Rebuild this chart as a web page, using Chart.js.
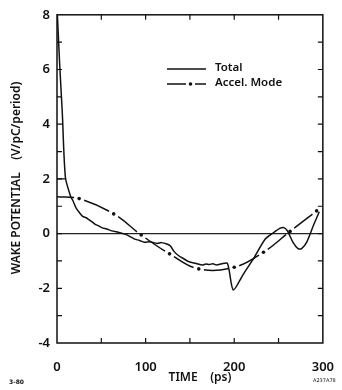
<!DOCTYPE html>
<html>
<head>
<meta charset="utf-8">
<script src="https://cdn.jsdelivr.net/npm/chart.js@4.4.0/dist/chart.umd.min.js"></script>
<style>
  html, body { margin: 0; padding: 0; background: #fff; }
</style>
</head>
<body>
<canvas id="grafico" width="342" height="390"></canvas>
<script>
// Dados
const tempoTotal = [0, 3, 6, 9.5, 15.5, 18, 21.6, 25, 29, 33, 36, 40, 43.6, 47, 51, 56, 62, 68, 76.6, 82, 87.5, 93, 98.5, 105, 113, 118, 124, 128, 132, 137, 142.5, 149, 157, 164, 168, 172, 176, 180, 186, 192, 194, 199, 210, 223, 235, 245, 252, 256, 260, 266, 272, 276, 282, 290, 296];
const wakeTotal = [8.3, 6.2, 4.4, 2.05, 1.35, 1.2, 0.93, 0.78, 0.63, 0.58, 0.51, 0.42, 0.33, 0.28, 0.21, 0.17, 0.1, 0.06, -0.02, -0.1, -0.2, -0.25, -0.32, -0.3, -0.36, -0.33, -0.38, -0.45, -0.65, -0.8, -0.91, -1.03, -1.09, -1.15, -1.11, -1.13, -1.1, -1.15, -1.1, -1.08, -1.3, -2.06, -1.5, -0.85, -0.2, 0.05, 0.2, 0.22, 0.1, -0.3, -0.55, -0.55, -0.3, 0.35, 0.8];

const tempoAcel = [0, 25, 64, 95, 127, 160, 200, 233, 263, 293];
const wakeAcel = [1.35, 1.28, 0.72, -0.05, -0.74, -1.29, -1.23, -0.68, 0.08, 0.83];

// trecho horizontal no início (nível 2)
const tempoDegrau = [0, 9.5];
const wakeDegrau = [2.0, 2.0];

const rotulosX = [0, 100, 200, 300];
const rotulosY = [-4, -2, 0, 2, 4, 6, 8];

const pares = (xs, ys) => xs.map((x, i) => ({ x: x, y: ys[i] }));

const fonteEixo = "600 13px 'Noto Sans', sans-serif";

// Plugin: moldura, ticks para dentro, legenda e títulos
const moldura = {
  id: 'moldura',
  afterDraw(chart) {
    const ctx = chart.ctx;
    const a = chart.chartArea;
    const sx = chart.scales.x;
    const sy = chart.scales.y;
    ctx.save();
    ctx.strokeStyle = '#111';
    ctx.lineWidth = 1.5;
    ctx.strokeRect(a.left, a.top, a.right - a.left, a.bottom - a.top);

    ctx.lineWidth = 1.2;
    ctx.beginPath();
    for (let v = 50; v < 300; v += 50) {
      const px = sx.getPixelForValue(v);
      ctx.moveTo(px, a.bottom); ctx.lineTo(px, a.bottom - 5);
      ctx.moveTo(px, a.top); ctx.lineTo(px, a.top + 5);
    }
    for (let v = -3; v < 8; v++) {
      const py = sy.getPixelForValue(v);
      ctx.moveTo(a.left, py); ctx.lineTo(a.left + 5, py);
      ctx.moveTo(a.right, py); ctx.lineTo(a.right - 5, py);
    }
    ctx.stroke();

    // legenda
    ctx.fillStyle = '#111';
    ctx.lineWidth = 1.4;
    ctx.beginPath();
    ctx.moveTo(167, 69); ctx.lineTo(206, 69);
    ctx.moveTo(167, 84); ctx.lineTo(186, 84);
    ctx.moveTo(195, 84); ctx.lineTo(206, 84);
    ctx.stroke();
    ctx.beginPath();
    ctx.arc(190.5, 84, 1.8, 0, Math.PI * 2);
    ctx.fill();
    ctx.font = "600 11.5px 'Noto Sans', sans-serif";
    ctx.textBaseline = 'middle';
    ctx.textAlign = 'left';
    ctx.fillText('Total', 215, 68);
    ctx.fillText('Accel. Mode', 215, 83);

    // títulos dos eixos
    ctx.font = "600 12px 'Noto Sans', sans-serif";
    ctx.textAlign = 'center';
    ctx.fillText('TIME    (ps)', 200, 378);
    ctx.save();
    ctx.translate(17, 178);
    ctx.rotate(-Math.PI / 2);
    ctx.fillText('WAKE POTENTIAL    (V/pC/period)', 0, 0);
    ctx.restore();

    // notas de rodapé
    ctx.font = "bold 6px 'DejaVu Sans', sans-serif";
    ctx.textAlign = 'left';
    ctx.fillText('3-80', 9, 382);
    ctx.font = "5px 'DejaVu Sans', sans-serif";
    ctx.fillText('A237A78', 313, 381);
    ctx.restore();
  }
};

// estilo traço-ponto: um traço entre cada par de pontos
function tracoSegmento(ctx) {
  const d = Math.hypot(ctx.p1.x - ctx.p0.x, ctx.p1.y - ctx.p0.y);
  if (ctx.p0DataIndex === 0) return [Math.max(d - 5, 1), 5];
  return [Math.max(d - 10, 1), 10];
}

const grafico = new Chart(document.getElementById('grafico'), {
  type: 'line',
  data: {
    datasets: [
      {
        label: 'Total',
        data: pares(tempoTotal, wakeTotal),
        borderColor: '#111',
        borderWidth: 1.5,
        pointRadius: 0,
        tension: 0.25
      },
      {
        label: 'Accel. Mode',
        data: pares(tempoAcel, wakeAcel),
        borderColor: '#111',
        borderWidth: 1.5,
        pointRadius: wakeAcel.map((v, i) => (i === 0 ? 0 : 1.8)),
        pointBackgroundColor: '#111',
        pointBorderWidth: 0,
        tension: 0.4,
        segment: {
          borderDash: tracoSegmento,
          borderDashOffset: (ctx) => (ctx.p0DataIndex === 0 ? 0 : -5)
        }
      },
      {
        label: 'degrau',
        data: pares(tempoDegrau, wakeDegrau),
        borderColor: '#111',
        borderWidth: 1.4,
        pointRadius: 0
      }
    ]
  },
  options: {
    responsive: false,
    animation: false,
    layout: { padding: { top: 6, right: 12, left: 0, bottom: 0 } },
    plugins: {
      legend: { display: false },
      tooltip: { enabled: false }
    },
    scales: {
      x: {
        type: 'linear',
        min: 0,
        max: 300,
        afterFit(scale) { scale.height = 47; },
        border: { display: false },
        grid: { display: false },
        ticks: {
          stepSize: 100,
          padding: 8,
          maxRotation: 0,
          color: '#111',
          font: { family: "'Noto Sans', sans-serif", size: 13, weight: '600' },
          callback: (v) => (rotulosX.includes(v) ? String(v) : '')
        }
      },
      y: {
        min: -4,
        max: 8,
        afterFit(scale) { scale.width = 57; },
        border: { display: false },
        grid: {
          drawTicks: false,
          color: (ctx) => (ctx.tick && ctx.tick.value === 0 ? '#222' : 'rgba(0,0,0,0)'),
          lineWidth: 1.2
        },
        ticks: {
          stepSize: 2,
          padding: 7,
          color: '#111',
          font: { family: "'Noto Sans', sans-serif", size: 13, weight: '600' },
          callback: (v) => (rotulosY.includes(v) ? String(v) : '')
        }
      }
    }
  },
  plugins: [moldura]
});
</script>
</body>
</html>
